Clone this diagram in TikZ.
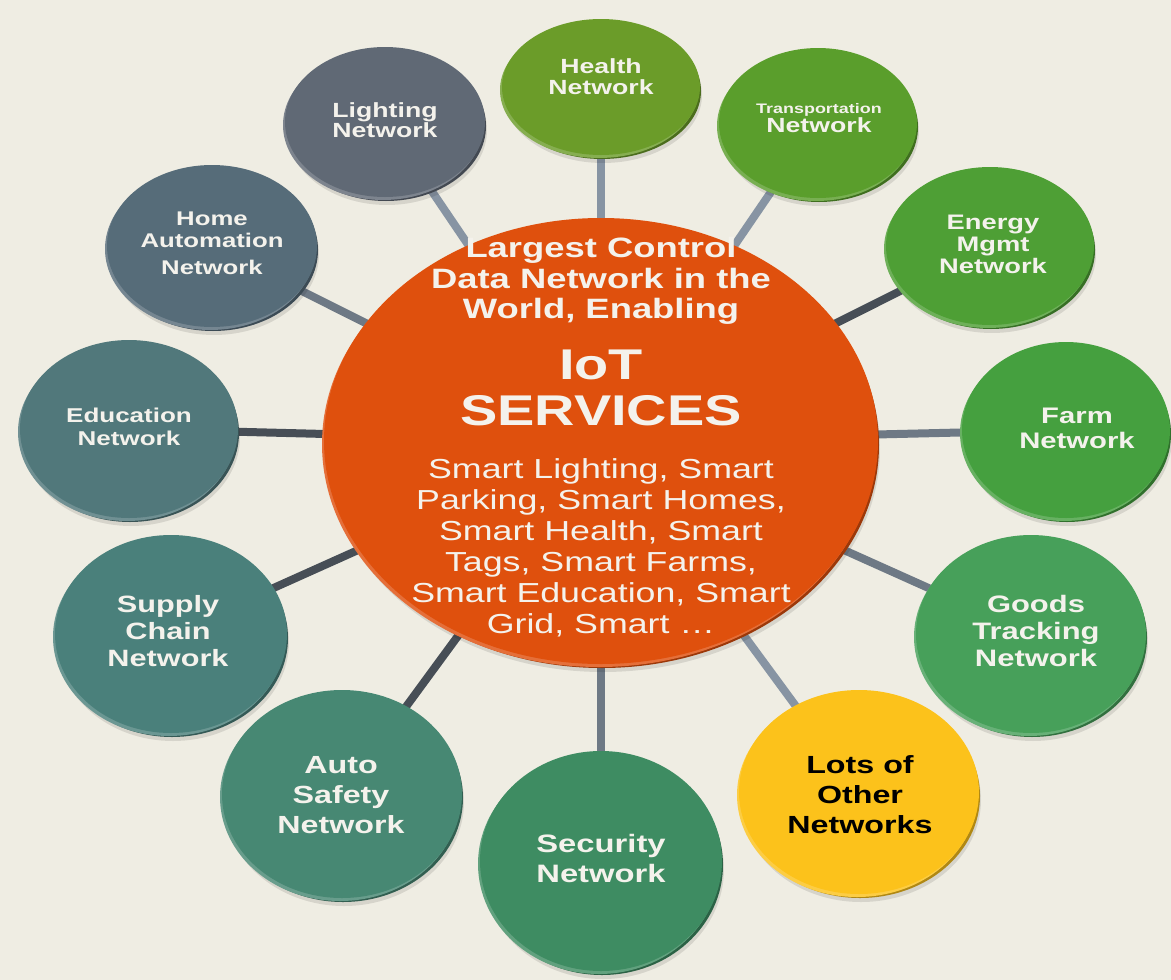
\documentclass[tikz,border=0pt]{standalone}
\usepackage{fontspec}
\setmainfont{Liberation Sans}
\newfontfamily\wf[FakeStretch=1.3]{Liberation Sans}
\usetikzlibrary{shapes.geometric,calc}
\definecolor{bgc}{HTML}{EFEDE3}
\definecolor{txt}{HTML}{F4F2EC}
\definecolor{cHealth}{HTML}{6B9C29}
\definecolor{cTrans}{HTML}{5A9E2C}
\definecolor{cEnergy}{HTML}{4E9F35}
\definecolor{cFarm}{HTML}{45A03F}
\definecolor{cGoods}{HTML}{47A05A}
\definecolor{cLots}{HTML}{FCC21B}
\definecolor{cSec}{HTML}{3E8C62}
\definecolor{cAuto}{HTML}{478873}
\definecolor{cSupply}{HTML}{4A807B}
\definecolor{cEdu}{HTML}{51787B}
\definecolor{cHome}{HTML}{566C79}
\definecolor{cLight}{HTML}{606975}
\definecolor{cCenter}{HTML}{DF500D}
\definecolor{kA}{HTML}{8794A3}
\definecolor{kB}{HTML}{6E7985}
\definecolor{kC}{HTML}{474E56}
\tikzset{
  conn/.style={line width=8pt, line cap=butt},
  lab/.style={align=center, text=txt, inner sep=0pt},
}
% #1 name, #2 position, #3 rx, #4 ry, #5 colour
\newcommand\mydisc[5]{%
  \fill[black, opacity=0.10] ($(#2)+(2,8)$) ellipse [x radius=#3pt, y radius=#4pt];
  \fill[#5!70!black] ($(#2)+(1,4)$) ellipse [x radius=#3pt, y radius=#4pt];
  \fill[#5!82!white] ($(#2)+(-2,3)$) ellipse [x radius=#3pt, y radius=#4pt];
  \node[ellipse, fill=#5, minimum width=2*#3pt, minimum height=2*#4pt, inner sep=0pt] (#1) at (#2) {};
}
\newcommand\fs[2]{\wf\bfseries\fontsize{#1}{#2}\selectfont}
\begin{document}
\begin{tikzpicture}[x=1pt,y=-1pt]
\fill[bgc] (0,0) rectangle (1171,980);
\useasboundingbox (0,0) rectangle (1171,980);

\coordinate (pC) at (601,441);
\coordinate (pHealth) at (601,87);
\coordinate (pTrans) at (818,123);
\coordinate (pEnergy) at (990,246);
\coordinate (pFarm) at (1066,430);
\coordinate (pGoods) at (1031,634);
\coordinate (pLots) at (859,792);
\coordinate (pSec) at (601,861);
\coordinate (pAuto) at (342,794);
\coordinate (pSupply) at (171,634);
\coordinate (pEdu) at (129,429);
\coordinate (pHome) at (212,246);
\coordinate (pLight) at (385,122);

% connectors
\draw[conn, draw=kA] (pC) -- (pHealth);
\draw[conn, draw=kA] (pC) -- (pTrans);
\draw[conn, draw=kC] (pC) -- (pEnergy);
\draw[conn, draw=kB] (pC) -- (pFarm);
\draw[conn, draw=kB] (pC) -- (pGoods);
\draw[conn, draw=kA] (pC) -- (pLots);
\draw[conn, draw=kB] (pC) -- (pSec);
\draw[conn, draw=kC] (pC) -- (pAuto);
\draw[conn, draw=kC] (pC) -- (pSupply);
\draw[conn, draw=kC] (pC) -- (pEdu);
\draw[conn, draw=kB] (pC) -- (pHome);
\draw[conn, draw=kA] (pC) -- (pLight);

% discs
\mydisc{health}{pHealth}{99}{68}{cHealth}
\mydisc{trans}{pTrans}{99}{75}{cTrans}
\mydisc{energy}{pEnergy}{104}{79}{cEnergy}
\mydisc{farm}{pFarm}{104}{88}{cFarm}
\mydisc{goods}{pGoods}{115}{99}{cGoods}
\mydisc{lots}{pLots}{120}{102}{cLots}
\mydisc{sec}{pSec}{121}{110}{cSec}
\mydisc{auto}{pAuto}{120}{104}{cAuto}
\mydisc{supply}{pSupply}{116}{99}{cSupply}
\mydisc{edu}{pEdu}{109}{89}{cEdu}
\mydisc{home}{pHome}{105}{81}{cHome}
\mydisc{light}{pLight}{100}{75}{cLight}
\mydisc{center}{pC}{277}{223}{cCenter}

% labels
\node[lab, font=\fs{20.5}{21}] (tHealth) at (601,77) {Health\\Network};
\node[lab] (tTrans) at (819,118) {{\fs{13.8}{17}Transportation}\\{\fs{20.5}{17}Network}};
\node[lab, font=\fs{21}{22}] (tEnergy) at (993,244) {Energy\\Mgmt\\Network};
\node[lab, font=\fs{22.5}{25}] (tFarm) at (1077,428) {Farm\\Network};
\node[lab, font=\fs{23.8}{27}] (tGoods) at (1036,631) {Goods\\Tracking\\Network};
\node[lab, font=\fs{24.8}{30}, text=black] (tLots) at (860,795) {Lots of\\Other\\Networks};
\node[lab, font=\fs{25.2}{30}] (tSec) at (601,858) {Security\\Network};
\node[lab, font=\fs{24.8}{30}] (tAuto) at (341,795) {Auto\\Safety\\Network};
\node[lab, font=\fs{23.6}{27}] (tSupply) at (168,631) {Supply\\Chain\\Network};
\node[lab, font=\fs{20}{23}] (tEdu) at (129,427) {Education\\Network};
\node[lab, font=\fs{19.8}{22}] (tHome) at (212,243) {Home\\Automation\\[5pt]Network};
\node[lab, font=\fs{20.5}{20}] (tLight) at (385,120) {Lighting\\Network};

\node[lab, font=\fs{28}{30.5}] (cTop) at (601,281) {Largest Control\\Data Network in the\\World, Enabling};
\node[lab, font=\fs{43}{46}] (cMid) at (601,388) {IoT\\SERVICES};
\node[lab, font={\wf\fontsize{27.5}{31}\selectfont}] (cBot) at (601,548) {Smart Lighting, Smart\\Parking, Smart Homes,\\Smart Health, Smart\\Tags, Smart Farms,\\Smart Education, Smart\\Grid, Smart \dots};
\end{tikzpicture}
\end{document}
